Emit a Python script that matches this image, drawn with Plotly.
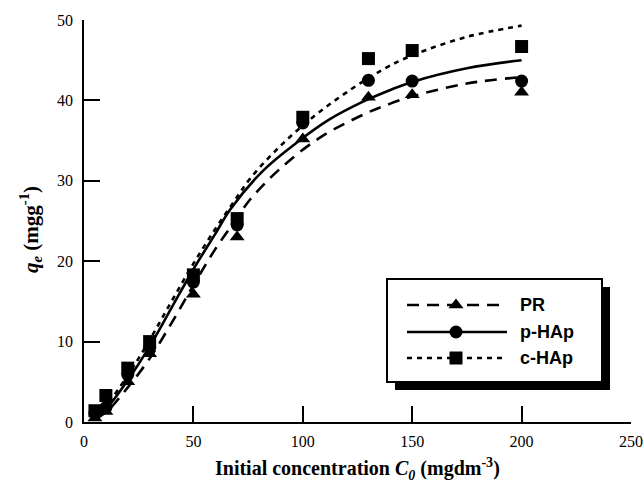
import plotly.graph_objects as go

# ---- data ----
x_pts = [5, 10, 20, 30, 50, 70, 100, 130, 150, 200]
pr_pts = [0.5, 1.3, 5.0, 8.5, 15.9, 23.0, 35.2, 40.4, 40.7, 41.0]
phap_pts = [1.1, 1.8, 5.9, 9.2, 17.4, 24.5, 37.2, 42.5, 42.4, 42.4]
chap_pts = [1.4, 3.3, 6.7, 10.0, 18.3, 25.3, 37.9, 45.2, 46.2, 46.7]

pr_fit_x = [5, 10, 20, 30, 40, 50, 60, 70, 76, 90, 108, 129, 140, 150, 175, 200]
pr_fit = [0.4, 1.2, 4.3, 7.9, 12.3, 17.0, 21.5, 25.4, 27.7, 31.6, 35.4, 38.4, 39.6, 40.5, 42.1, 42.9]
phap_fit_x = [5, 10, 20, 30, 40, 50, 60, 67, 82, 97, 112, 128, 140, 150, 175, 200]
phap_fit = [0.5, 1.6, 5.2, 9.4, 14.2, 19.0, 23.4, 26.5, 31.3, 34.7, 37.6, 39.9, 41.3, 42.3, 44.0, 45.0]
chap_fit_x = [5, 10, 20, 30, 40, 50, 60, 68, 76, 90, 105, 120, 137, 150, 175, 200]
chap_fit = [0.7, 2.0, 5.8, 10.2, 15.0, 19.7, 24.0, 27.2, 30.3, 34.4, 38.0, 41.0, 43.9, 45.6, 47.9, 49.3]

x_ticks = [0, 50, 100, 150, 200, 250]
y_ticks = [0, 10, 20, 30, 40, 50]

series_names = ["PR", "p-HAp", "c-HAp"]
dash_styles = ["12px,8px", "solid", "5px,5px"]
marker_symbols = ["triangle-up", "circle", "square"]

W, H = 643, 489
ML, MR, MT, MB = 84, 12, 20, 67
PW, PH = W - ML - MR, H - MT - MB

def px(xp):
    return (xp - ML) / PW

def py(yp):
    return (H - MB - yp) / PH

fig = go.Figure()

fits = [(pr_fit_x, pr_fit), (phap_fit_x, phap_fit), (chap_fit_x, chap_fit)]
pts = [pr_pts, phap_pts, chap_pts]
for name, (fx, fy), dsh in zip(series_names, fits, dash_styles):
    fig.add_trace(go.Scatter(x=fx, y=fy, mode="lines",
                             line=dict(color="black", width=2.6, dash=dsh, shape="spline", smoothing=1.0),
                             showlegend=False, hoverinfo="skip"))
for name, yy, sym in zip(series_names, pts, marker_symbols):
    fig.add_trace(go.Scatter(x=x_pts, y=yy, mode="markers", name=name,
                             marker=dict(symbol=sym, size=13, color="black"), showlegend=False))

# ---- manual legend (overlay axes in paper-like units) ----
leg_rows = [305, 332, 358]
for name, dsh, sym, row in zip(series_names, dash_styles, marker_symbols, leg_rows):
    fig.add_trace(go.Scatter(x=[px(407), px(507)], y=[py(row), py(row)], mode="lines",
                             line=dict(color="black", width=2.6, dash=dsh),
                             xaxis="x2", yaxis="y2", showlegend=False, hoverinfo="skip"))
    fig.add_trace(go.Scatter(x=[px(456)], y=[py(row)], mode="markers",
                             marker=dict(symbol=sym, size=13, color="black"),
                             xaxis="x2", yaxis="y2", showlegend=False, hoverinfo="skip"))
    fig.add_annotation(x=px(518), y=py(row), xref="paper", yref="paper", text="<b>%s</b>" % name,
                       showarrow=False, xanchor="left", yanchor="middle",
                       font=dict(family="Liberation Sans", size=18, color="black"))

# shadow + box
fig.add_shape(type="rect", xref="paper", yref="paper", x0=px(395), x1=px(610), y0=py(390), y1=py(287),
              fillcolor="black", line=dict(color="black", width=0), layer="below")
fig.add_shape(type="rect", xref="paper", yref="paper", x0=px(387), x1=px(602), y0=py(382), y1=py(279),
              fillcolor="white", line=dict(color="black", width=2), layer="below")

axis_font = dict(family="Liberation Serif", size=16, color="black")
fig.update_layout(
    width=W, height=H,
    margin=dict(l=ML, r=MR, t=MT, b=MB, autoexpand=False),
    paper_bgcolor="white", plot_bgcolor="white",
    xaxis=dict(range=[0, 250], tickvals=x_ticks, ticktext=[str(v) for v in x_ticks],
               ticks="inside", ticklen=16, tickwidth=1.5, tickcolor="black",
               showline=True, linecolor="black", linewidth=1.5, showgrid=False, zeroline=False,
               tickfont=axis_font, ticklabelstandoff=4, automargin=False),
    yaxis=dict(range=[0, 50], tickvals=y_ticks, ticktext=[str(v) for v in y_ticks],
               ticks="inside", ticklen=16, tickwidth=1.5, tickcolor="black",
               showline=True, linecolor="black", linewidth=1.5, showgrid=False, zeroline=False,
               tickfont=axis_font, ticklabelstandoff=6, automargin=False),
    xaxis2=dict(range=[0, 1], domain=[0, 1], anchor="y2", overlaying="x", visible=False),
    yaxis2=dict(range=[0, 1], domain=[0, 1], anchor="x2", overlaying="y", visible=False),
    showlegend=False,
)

fig.add_annotation(x=px(357), y=py(469), xref="paper", yref="paper",
                   text="<b>Initial concentration <i>C</i><sub><i>0</i></sub> (mgdm<sup>-3</sup>)</b>",
                   showarrow=False, xanchor="center", yanchor="middle",
                   font=dict(family="Liberation Serif", size=20, color="black"))
fig.add_annotation(x=px(31), y=py(230), xref="paper", yref="paper",
                   text="<b><i>q</i><sub><i>e</i></sub> (mgg<sup>-1</sup>)</b>",
                   showarrow=False, xanchor="center", yanchor="middle", textangle=-90,
                   font=dict(family="Liberation Serif", size=21, color="black"))

fig.write_html("out.html", config={"displayModeBar": False},
               post_script="document.body.style.margin='0';")
